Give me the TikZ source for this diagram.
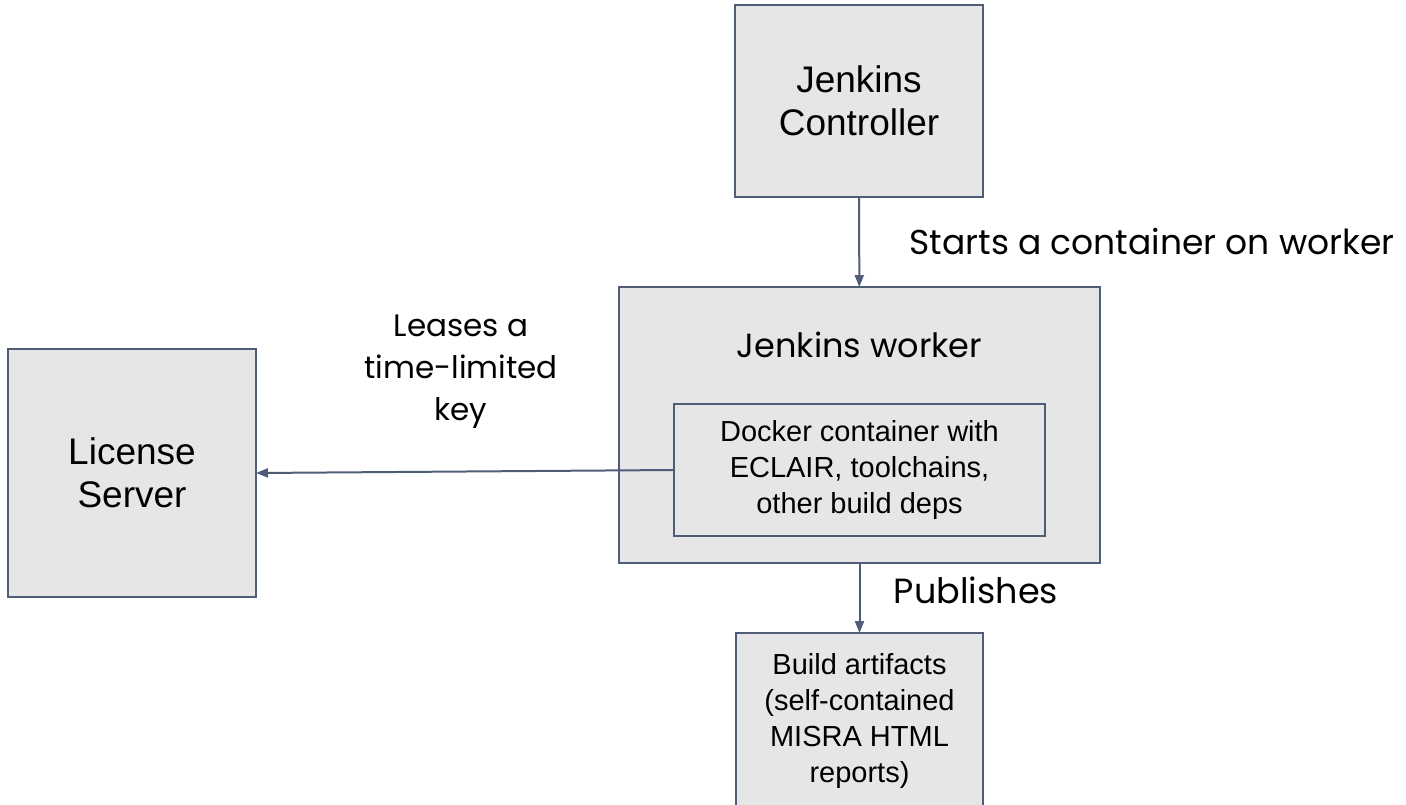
\documentclass[tikz,border=0pt]{standalone}
\usepackage{fontspec}
\setmainfont{Liberation Sans}
\newfontfamily\labelfont{Poppins}
\usetikzlibrary{arrows.meta}
\definecolor{slate}{HTML}{4F5D78}
\definecolor{boxgray}{HTML}{E6E6E6}
\begin{document}
\begin{tikzpicture}[x=1pt, y=-1pt, line width=2pt, >={Triangle[length=12pt,width=9pt]},
  main node/.style={rectangle,draw=slate,fill=boxgray,inner sep=0pt,outer sep=0pt,align=center},
  edge label/.style={font=\labelfont\fontsize{35}{42}\selectfont,align=center,inner sep=0pt}]%
\useasboundingbox (0,0) rectangle (1406,804);
\clip (0,0) rectangle (1406,804);
\begin{scope}[every node/.style={main node,font=\fontsize{37}{43}\selectfont}]
\node[minimum width=248pt,minimum height=192pt] (ctrl) at (859,101) {Jenkins\\Controller};
\node[minimum width=481pt,minimum height=276pt] (worker) at (859.5,425) {};
\node[minimum width=248pt,minimum height=248pt] (lic) at (132,473) {License\\Server};
\node[minimum width=247pt,minimum height=176pt,font=\fontsize{29}{36}\selectfont] (build) at (859.5,721) {Build artifacts\\(self-contained\\MISRA HTML\\reports)};
\node[minimum width=371pt,minimum height=132pt,font=\fontsize{29}{36}\selectfont] (docker) at (859.5,470) {Docker container with\\ECLAIR, toolchains,\\other build deps};
\end{scope}
\begin{scope}[every node/.style={edge label}]
\node[anchor=base,font=\labelfont\fontsize{33.5}{42}\selectfont] (wlabel) at (859.5,357) {Jenkins worker};
\node[anchor=base,font=\labelfont\fontsize{34.5}{42}\selectfont] (starts) at (1152,254) {Starts a container on worker};
\node[font=\labelfont\fontsize{31}{42}\selectfont] (leases) at (461,372) {Leases a\\time-limited\\key};
\node[anchor=base] (pub) at (976,603) {Publishes};
\end{scope}
\begin{scope}[draw=slate]
\draw[->,slate] (ctrl) -- (worker);
\draw[->,slate] (docker.west) -- (lic.east);
\draw[->,slate] (worker) -- (build);
\end{scope}
\end{tikzpicture}
\end{document}
